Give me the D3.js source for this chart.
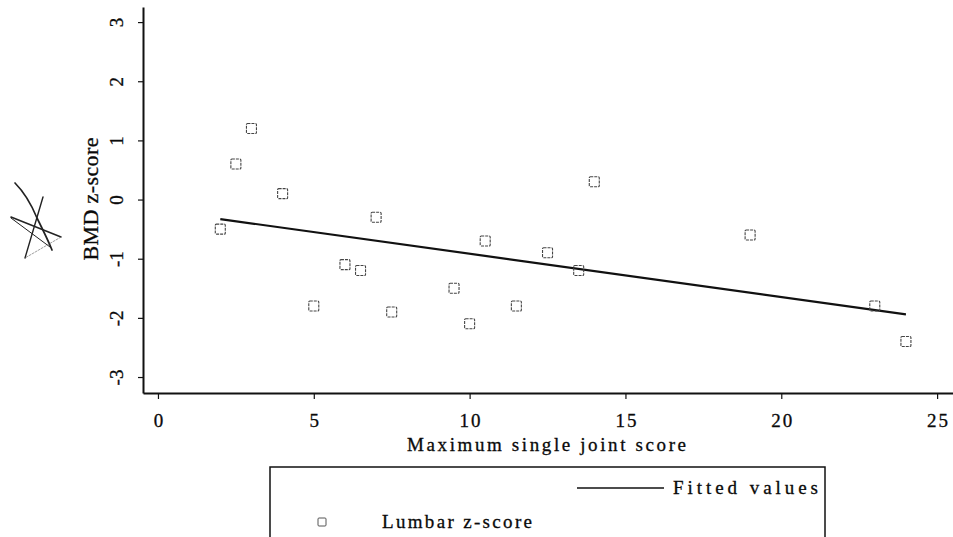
<!DOCTYPE html>
<html>
<head>
<meta charset="utf-8">
<script src="https://cdn.jsdelivr.net/npm/d3@7"></script>
<style>
  html, body { margin: 0; padding: 0; background: #fff; }
  svg { display: block; }
  svg text { font-family: "Liberation Serif", "DejaVu Serif", serif; fill: #0a0a0a; stroke: #0a0a0a; stroke-width: 0.3px; }
</style>
</head>
<body>
<svg id="chart" width="953" height="537"></svg>
<script>
// ---- data ----
const jointScore = [2, 2.5, 3, 4, 5, 6, 6.5, 7, 7.5, 9.5, 10, 10.5, 11.5, 12.5, 13.5, 14, 19, 23, 24];
const lumbarZ    = [-0.5, 0.6, 1.2, 0.1, -1.8, -1.1, -1.2, -0.3, -1.9, -1.5, -2.1, -0.7, -1.8, -0.9, -1.2, 0.3, -0.6, -1.8, -2.4];
const fittedX = [2, 24];
const fittedY = [-0.33, -1.94];
const xTicks = [0, 5, 10, 15, 20, 25];
const yTicks = [-3, -2, -1, 0, 1, 2, 3];
const xTitle = "Maximum single joint score";
const yTitle = "BMD z-score";
const legendLabels = ["Fitted values", "Lumbar z-score"];

const FONT = "Liberation Serif, DejaVu Serif, serif";
const svg = d3.select("#chart");

const x = d3.scaleLinear().domain([-0.48, 25.51]).range([143, 953]);
const y = d3.scaleLinear().domain([-3.27, 3.255]).range([393, 7]);
const plain = d => String(d); // hyphen-minus as in the original

// hand-drawn scribble left of the y title (decoration in the scan)
const scribble = svg.append("g").attr("fill", "none").attr("stroke", "#222").attr("stroke-linecap", "round");
scribble.append("path").attr("d", "M15,183 C24,192 32,206 37,218 C43,230 48,240 52,250").attr("stroke-width", 1.7);
scribble.append("path").attr("d", "M11,217 L61,237").attr("stroke-width", 1.5);
scribble.append("path").attr("d", "M11,218 L50,247").attr("stroke-width", 1.0);
scribble.append("path").attr("d", "M43,197 L25,258").attr("stroke-width", 1.4);
scribble.append("path").attr("d", "M61,237 L25,258").attr("stroke-width", 0.7).attr("stroke", "#777")
  .attr("stroke-dasharray", "2,1.5");

// axes
const xAxis = d3.axisBottom(x).tickValues(xTicks).tickFormat(plain)
  .tickSizeInner(6).tickSizeOuter(0);
const gx = svg.append("g").attr("transform", "translate(0,393)").call(xAxis)
  .attr("font-family", FONT).attr("font-size", 19);
gx.select(".domain").attr("stroke", "#111").attr("stroke-width", 2);
gx.selectAll(".tick line").attr("stroke", "#111").attr("stroke-width", 1.2);
gx.selectAll(".tick text").attr("letter-spacing", 2).attr("fill", "#0a0a0a")
  .attr("y", null).attr("dy", null).attr("transform", "translate(1,34)");

const yAxis = d3.axisLeft(y).tickValues(yTicks).tickFormat(plain)
  .tickSizeInner(5).tickSizeOuter(0);
const gy = svg.append("g").attr("transform", "translate(143,0)").call(yAxis)
  .attr("font-family", FONT).attr("font-size", 19);
gy.select(".domain").attr("stroke", "#111").attr("stroke-width", 2);
gy.selectAll(".tick line").attr("stroke", "#111").attr("stroke-width", 1.2);
gy.selectAll(".tick text").attr("fill", "#0a0a0a")
  .attr("x", null).attr("dy", null).attr("text-anchor", "middle")
  .attr("transform", "translate(-20,0) rotate(-90)");

// axis titles
svg.append("text").attr("x", 407).attr("y", 451).attr("font-size", 19).attr("font-family", FONT)
  .attr("textLength", 279).attr("lengthAdjust", "spacing").text(xTitle);
svg.append("text").attr("transform", `translate(98,${y(0) + 61}) rotate(-90)`)
  .attr("font-size", 22).attr("font-family", FONT)
  .attr("textLength", 123).attr("lengthAdjust", "spacing").text(yTitle);

// fitted line
const line = d3.line().x(d => x(d[0])).y(d => y(d[1]));
svg.append("path").datum(d3.zip(fittedX, fittedY)).attr("d", line)
  .attr("fill", "none").attr("stroke", "#111").attr("stroke-width", 2.2);

// points
const s = 10;
svg.append("g").selectAll("rect").data(d3.zip(jointScore, lumbarZ)).join("rect")
  .attr("x", d => x(d[0]) - s / 2).attr("y", d => y(d[1]) - s / 2)
  .attr("width", s).attr("height", s).attr("rx", 1)
  .attr("fill", "none").attr("stroke", "#444").attr("stroke-width", 1.1)
  .attr("stroke-dasharray", "3,1");

// legend
const lg = svg.append("g");
lg.append("rect").attr("x", 270).attr("y", 467).attr("width", 555).attr("height", 100)
  .attr("fill", "none").attr("stroke", "#111").attr("stroke-width", 1.5);
lg.append("line").attr("x1", 577).attr("x2", 664).attr("y1", 488).attr("y2", 488)
  .attr("stroke", "#111").attr("stroke-width", 1.5);
lg.append("text").attr("x", 673).attr("y", 494).attr("font-size", 19).attr("font-family", FONT)
  .attr("textLength", 145).attr("lengthAdjust", "spacing").text(legendLabels[0]);
lg.append("rect").attr("x", 318).attr("y", 518).attr("width", 8).attr("height", 8).attr("rx", 1)
  .attr("fill", "none").attr("stroke", "#555").attr("stroke-width", 1);
lg.append("text").attr("x", 382).attr("y", 528).attr("font-size", 19).attr("font-family", FONT)
  .attr("textLength", 150).attr("lengthAdjust", "spacing").text(legendLabels[1]);
</script>
</body>
</html>
